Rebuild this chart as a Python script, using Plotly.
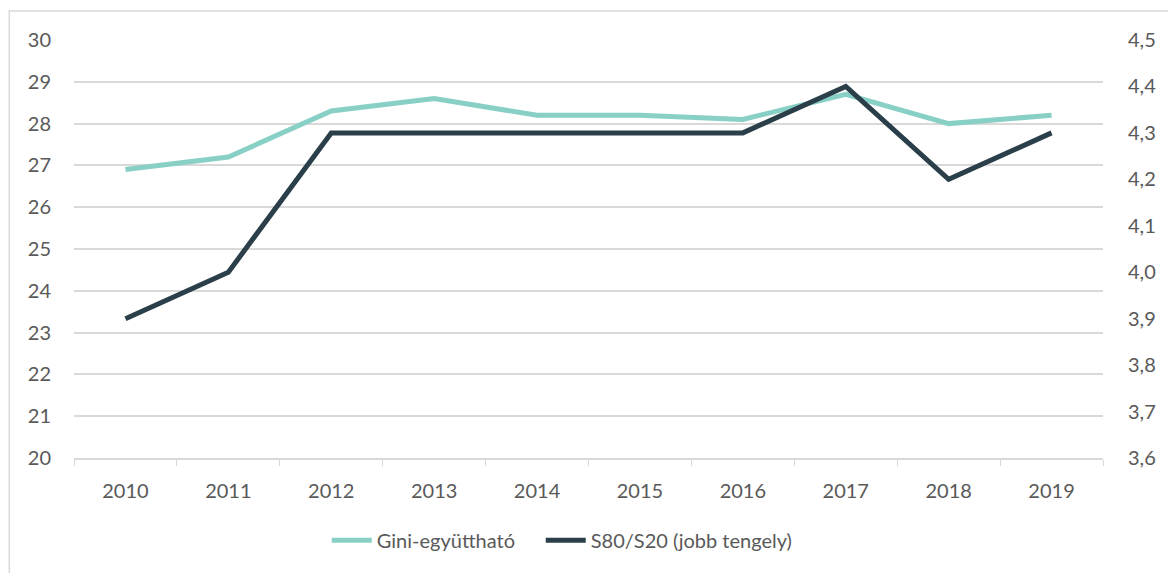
import plotly.graph_objects as go

years = ["2010", "2011", "2012", "2013", "2014", "2015", "2016", "2017", "2018", "2019"]
gini = [26.9, 27.2, 28.3, 28.6, 28.2, 28.2, 28.1, 28.7, 28.0, 28.2]
s80s20 = [3.9, 4.0, 4.3, 4.3, 4.3, 4.3, 4.3, 4.4, 4.2, 4.3]

FONT = "Lato"
TXT = "#595959"
GRID = "#d9d9d9"

fig = go.Figure()
fig.add_trace(go.Scatter(x=years, y=gini, name="Gini-együttható", mode="lines",
                         line=dict(color="#88d0c5", width=5), yaxis="y", legend="legend"))
fig.add_trace(go.Scatter(x=years, y=s80s20, name="S80/S20 (jobb tengely)", mode="lines",
                         line=dict(color="#2a3f4a", width=5), yaxis="y2", legend="legend2"))

leg = dict(orientation="h", xanchor="left", y=-0.197, yanchor="middle",
           font=dict(family=FONT, size=20, color=TXT), itemwidth=40,
           bgcolor="rgba(0,0,0,0)")

fig.update_layout(
    width=1168, height=573,
    margin=dict(l=74, r=60, t=40, b=115),
    paper_bgcolor="white", plot_bgcolor="white",
    font=dict(family=FONT, size=20, color=TXT),
    separators=", ",
    showlegend=True,
    legend=dict(leg, x=(328 - 74) / 1034),
    legend2=dict(leg, x=(543 - 74) / 1034),
    xaxis=dict(type="category", tickson="boundaries", ticks="outside", ticklen=6,
               tickcolor=GRID, showline=True, linecolor=GRID, linewidth=1.5,
               showgrid=False, ticklabelstandoff=14, range=[-0.5, 9.5]),
    yaxis=dict(range=[20, 30], dtick=1, showgrid=True, gridcolor=GRID, gridwidth=1.5,
               zeroline=False, showline=False, ticks="", ticklabelstandoff=22),
    yaxis2=dict(range=[3.6, 4.5], dtick=0.1, tick0=3.6, overlaying="y", side="right",
                showgrid=False, zeroline=False, showline=False, tickformat=".1f",
                ticks="", ticklabelstandoff=24),
    shapes=[dict(type="rect", xref="paper", yref="paper",
                 x0=(9 - 74) / 1034, x1=1.2, y0=-0.5, y1=(458 - 11) / 418,
                 line=dict(color=GRID, width=1.5), fillcolor="rgba(0,0,0,0)", layer="below")],
)

fig.write_html("out.html", config={"displayModeBar": False},
               post_script="document.body.style.margin='0';")
